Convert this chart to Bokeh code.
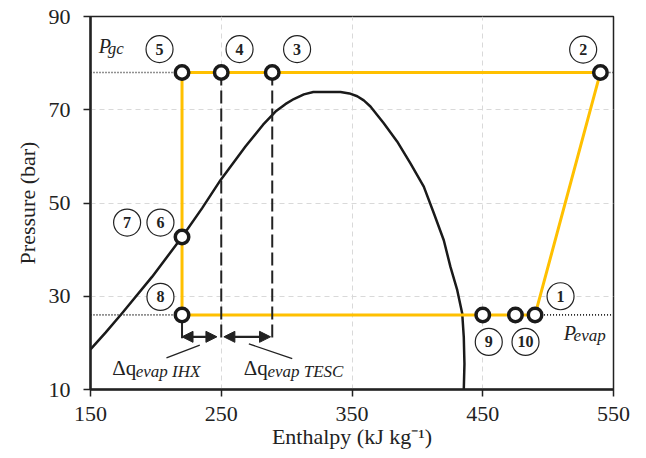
from bokeh.plotting import figure
from bokeh.models import Arrow, NormalHead, FixedTicker, Range1d
from bokeh.core.properties import value
from bokeh.embed import file_html
from bokeh.resources import INLINE

# Saturation dome
dome_h = [150, 161.5, 174, 197.2, 220, 235.4, 249.4, 268.5, 282, 291.5, 299, 305.5, 313.2, 320.4,
          341.2, 348, 354, 359, 364.1, 374.3, 384.5, 394.7, 404.9, 412.6, 420.2, 425.3, 430.5,
          434.3, 435.5, 436, 435.5]
dome_p = [18.6, 22.2, 26.3, 34.2, 42.7, 48.9, 54.9, 62.1, 66.8, 69.6, 71.2, 72.3, 73.3, 73.8,
          73.8, 73.5, 72.9, 72.0, 70.7, 67.1, 63.2, 58.5, 53.5, 47.8, 42.0, 36.3, 31.3,
          26.3, 21.2, 15.5, 10.0]

# Cycle
p_gc = 78
p_evap = 26
cycle_h = [490, 540, 220, 220, 490]
cycle_p = [p_evap, p_gc, p_gc, p_evap, p_evap]

# State points
state_h = [490, 540, 289, 250, 220, 220, 220, 450, 475]
state_p = [26, 78, 78, 78, 78, 42.7, 26, 26, 26]

# Circled number labels
lab_text = ["1", "2", "3", "4", "5", "6", "7", "8", "9", "10"]
lab_h = [509.5, 526.8, 308, 264, 202.8, 203.5, 178, 203.5, 454.6, 482.7]
lab_p = [30.0, 82.9, 83.0, 83.0, 83.0, 45.8, 45.8, 29.85, 20.2, 20.2]

# Delta q annotations
dq_level = 21.3
ihx_h = [220, 246.7]
tesc_h = [252, 287.7]
dash_h = [250, 289]

x_ticks = [150, 250, 350, 450, 550]
y_ticks = [10, 30, 50, 70, 90]

SERIF = "Liberation Serif"
GOLD = "#FFC000"

p = figure(width=646, height=458, output_backend="svg", toolbar_location=None,
           x_range=Range1d(150, 550), y_range=Range1d(10, 90),
           min_border_left=90, min_border_right=33, min_border_top=16, min_border_bottom=69)
p.background_fill_color = "white"
p.border_fill_color = "white"
p.outline_line_color = "#222222"
p.outline_line_width = 1.5

for ax in (p.xaxis, p.yaxis):
    ax.axis_line_width = 2.5
    ax.axis_line_color = "#222222"
    ax.major_tick_line_color = "#222222"
    ax.major_tick_line_width = 1.5
    ax.major_tick_out = 7
    ax.major_tick_in = 0
    ax.minor_tick_line_color = None
    ax.major_label_text_font = SERIF
    ax.major_label_text_font_size = "22px"
    ax.major_label_text_color = "#222222"
    ax.axis_label_text_font = SERIF
    ax.axis_label_text_font_size = "22px"
    ax.axis_label_text_font_style = "normal"
    ax.axis_label_text_color = "#222222"

p.xaxis.ticker = FixedTicker(ticks=x_ticks)
p.yaxis.ticker = FixedTicker(ticks=y_ticks)
p.xaxis.axis_label = "Enthalpy (kJ kg\u207b\u00b9)"
p.yaxis.axis_label = "Pressure (bar)"
p.xaxis.major_label_standoff = 10
p.yaxis.major_label_standoff = 13
p.xaxis.axis_label_standoff = 0
p.yaxis.axis_label_standoff = 6

p.xgrid.ticker = FixedTicker(ticks=x_ticks)
p.ygrid.ticker = FixedTicker(ticks=y_ticks)
for g in (p.xgrid, p.ygrid):
    g.grid_line_color = "#d9d9d9"
    g.grid_line_dash = "5 4"
    g.grid_line_width = 1

# Dome
p.line(dome_h, dome_p, line_color="#1a1a1a", line_width=2.5, line_join="round")

# Dotted pressure lines
p.line([150, 220], [p_gc, p_gc], line_color="#222222", line_width=1.6, line_dash="1 2")
p.line([540, 550], [p_gc, p_gc], line_color="#222222", line_width=1.6, line_dash="1 2")
p.line([150, 220], [p_evap, p_evap], line_color="#222222", line_width=1.6, line_dash="1 2")
p.line([490, 550], [p_evap, p_evap], line_color="#222222", line_width=1.6, line_dash="1 2")

# Cycle
p.line(cycle_h, cycle_p, line_color=GOLD, line_width=3)

# Dashed verticals
for h in dash_h:
    p.line([h, h], [p_gc, dq_level - 0.3], line_color="#222222", line_width=2, line_dash="13 5")
p.line([220, 220], [p_evap, dq_level - 0.3], line_color="#222222", line_width=2)

# Arrows
for hh in (ihx_h, tesc_h):
    p.add_layout(Arrow(x_start=hh[0], y_start=dq_level, x_end=hh[1], y_end=dq_level,
                       line_color="#222222", line_width=2.2,
                       start=NormalHead(size=11, fill_color="#222222", line_color="#222222"),
                       end=NormalHead(size=11, fill_color="#222222", line_color="#222222")))

# Leader lines
p.line([208.1, 233.6], [16.8, 19.5], line_color="#222222", line_width=1.3)
p.line([271.1, 304.3], [19.8, 16.6], line_color="#222222", line_width=1.3)

# State markers
p.scatter(state_h, state_p, size=13.5, marker="circle", fill_color="white",
          line_color="#1a1a1a", line_width=3.5)

# Circled labels
p.scatter(lab_h, lab_p, size=27, marker="circle", fill_color="white",
          line_color="#222222", line_width=1.2)
p.text(lab_h, lab_p, text=lab_text, text_align="center", text_baseline="middle",
       text_font=value(SERIF), text_font_style="bold", text_font_size="16px",
       text_color="#222222")

# Pressure labels
p.text([156.3], [83.7], text=["P"], text_font=value(SERIF), text_font_style="italic",
       text_font_size="20px", text_color="#222222", text_baseline="alphabetic")
p.text([163.2], [83.2], text=["gc"], text_font=value(SERIF), text_font_style="italic",
       text_font_size="17px", text_color="#222222", text_baseline="alphabetic")
p.text([512], [22.1], text=["P"], text_font=value(SERIF), text_font_style="italic",
       text_font_size="20px", text_color="#222222", text_baseline="alphabetic")
p.text([519.5], [21.6], text=["evap"], text_font=value(SERIF), text_font_style="italic",
       text_font_size="17px", text_color="#222222", text_baseline="alphabetic")

# Delta q labels
p.text([166.6, 267.2], [14.6, 14.6], text=["\u0394q", "\u0394q"], text_font=value(SERIF),
       text_font_size="21px", text_color="#222222", text_baseline="alphabetic")
p.text([184.6, 285.3], [13.85, 13.85], text=["evap IHX", "evap TESC"], text_font=value(SERIF),
       text_font_style="italic", text_font_size="17px", text_color="#222222",
       text_baseline="alphabetic")

open("out.html", "w").write(file_html(p, INLINE))
